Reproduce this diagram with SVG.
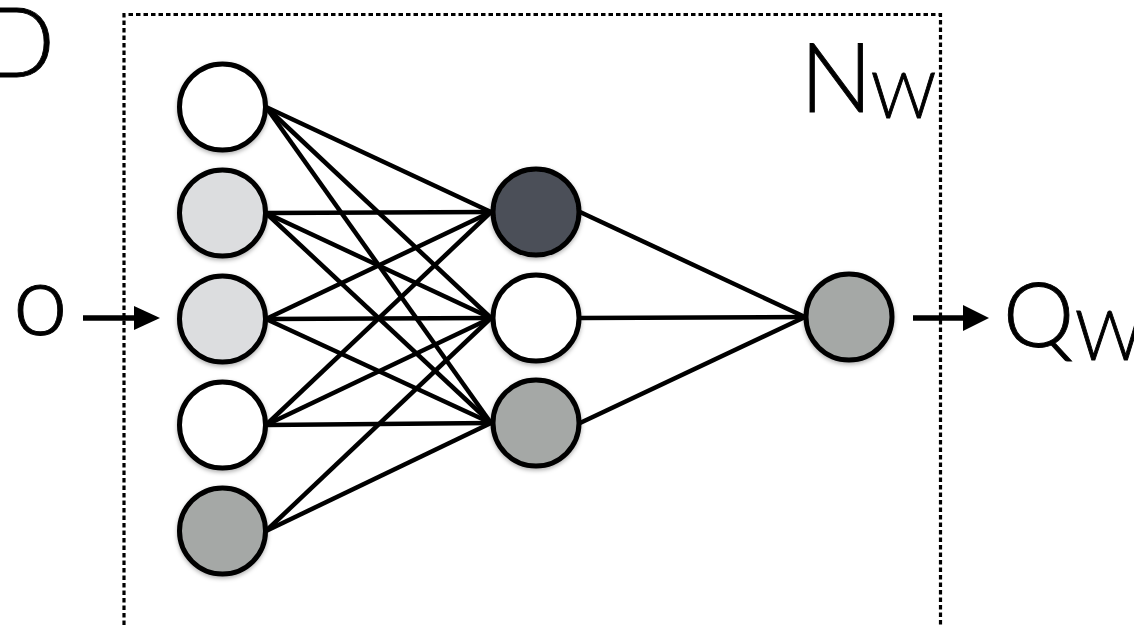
<svg xmlns="http://www.w3.org/2000/svg" width="1134" height="625" viewBox="0 0 1134 625">
<style>
.lbl{font-family:"Lato","Open Sans","Liberation Sans",sans-serif;font-weight:300;fill:#000;stroke:#000;stroke-width:0.9}
.node{stroke:#000;stroke-width:5}
.edge{stroke:#000;stroke-width:4.5;fill:none}
.arr{stroke:#000;stroke-width:5.5}
</style>
<defs>
<filter id="sh" x="-30%" y="-30%" width="160%" height="160%">
<feDropShadow dx="0" dy="2" stdDeviation="2" flood-color="#000" flood-opacity="0.3"/>
</filter>
</defs>
<rect width="1134" height="625" fill="#fff"/>
<g id="frame">
<path d="M124,640 V14.5 H940.5 V640" fill="none" stroke="#000" stroke-width="3.2" stroke-dasharray="4.5 3"/>
</g>
<text class="lbl" x="-18" y="77" font-size="96">D</text>
<g id="label-nw">
<text class="lbl" x="800" y="112" font-size="96">N</text>
<text class="lbl" x="871" y="118" font-size="64">W</text>
</g>
<g id="connectors">
<line class="edge" x1="266" y1="107" x2="491" y2="212"/>
<line class="edge" x1="266" y1="107" x2="491" y2="318"/>
<line class="edge" x1="266" y1="107" x2="491" y2="423"/>
<line class="edge" x1="266" y1="213" x2="491" y2="212"/>
<line class="edge" x1="266" y1="213" x2="491" y2="318"/>
<line class="edge" x1="266" y1="213" x2="491" y2="423"/>
<line class="edge" x1="266" y1="319" x2="491" y2="212"/>
<line class="edge" x1="266" y1="319" x2="491" y2="318"/>
<line class="edge" x1="266" y1="319" x2="491" y2="423"/>
<line class="edge" x1="266" y1="425" x2="491" y2="212"/>
<line class="edge" x1="266" y1="425" x2="491" y2="318"/>
<line class="edge" x1="266" y1="425" x2="491" y2="423"/>
<line class="edge" x1="266" y1="531" x2="491" y2="318"/>
<line class="edge" x1="266" y1="531" x2="491" y2="423"/>
<line class="edge" x1="580" y1="212" x2="805" y2="317"/>
<line class="edge" x1="580" y1="318" x2="805" y2="317"/>
<line class="edge" x1="580" y1="423" x2="805" y2="317"/>
<line class="arr" x1="83" y1="318" x2="137" y2="318"/>
<polygon points="134,306 160,318 134,330" fill="#000"/>
<line class="arr" x1="913" y1="318" x2="965" y2="318"/>
<polygon points="963,305 989,318 963,331" fill="#000"/>
</g>
<g id="input-nodes" filter="url(#sh)">
<circle id="in1" class="node" cx="222.5" cy="107" r="43" fill="#fff"/>
<circle id="in2" class="node" cx="222.5" cy="213" r="43" fill="#dcdddf"/>
<circle id="in3" class="node" cx="222.5" cy="319" r="43" fill="#dcdddf"/>
<circle id="in4" class="node" cx="222.5" cy="425" r="43" fill="#fff"/>
<circle id="in5" class="node" cx="222.5" cy="531" r="43" fill="#a5a8a6"/>
</g>
<g id="hidden-nodes" filter="url(#sh)">
<circle id="h1" class="node" cx="536" cy="212" r="43" fill="#4b5058"/>
<circle id="h2" class="node" cx="536" cy="318" r="43" fill="#fff"/>
<circle id="h3" class="node" cx="536" cy="423" r="43" fill="#a5a8a6"/>
</g>
<g id="output-node" filter="url(#sh)">
<circle id="out" class="node" cx="849" cy="317" r="43" fill="#a5a8a6"/>
</g>
<g id="label-o">
<text class="lbl" x="13" y="335" font-size="98">o</text>
</g>
<g id="label-qw">
<text class="lbl" x="1003" y="347" font-size="90">Q</text>
<text class="lbl" x="1075" y="360" font-size="68">W</text>
</g>
</svg>
